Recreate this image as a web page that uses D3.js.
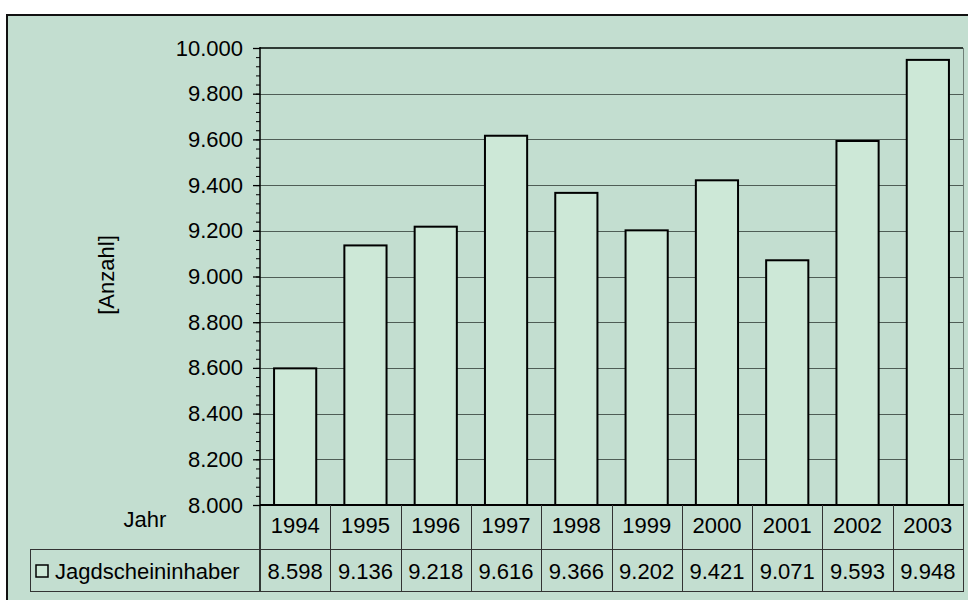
<!DOCTYPE html>
<meta charset="utf-8">
<script src="https://d3js.org/d3.v7.min.js"></script>
<style>
  body { margin: 0; background: #fff; }
  text { font-family: "Liberation Sans", Arial, sans-serif; fill: #000; }
</style>
<div id="chart"></div>
<script>
// data
var years = ["1994", "1995", "1996", "1997", "1998", "1999", "2000", "2001", "2002", "2003"];
var values = [8598, 9136, 9218, 9616, 9366, 9202, 9421, 9071, 9593, 9948];
var yTicks = [8000, 8200, 8400, 8600, 8800, 9000, 9200, 9400, 9600, 9800, 10000];
var seriesName = "Jagdscheininhaber";
var rowLabel = "Jahr";
var yLabel = "[Anzahl]";

var W = 968, H = 600;
var plot = {left: 260, right: 963, top: 48, bottom: 505};
var rowYear = {top: 505, bottom: 549};
var rowVal = {top: 549, bottom: 591};
var fs = "22px";

// german number format: 10.000
var de = d3.formatLocale({decimal: ",", thousands: ".", grouping: [3], currency: ["", " €"]});
var fmt = de.format(",d");

var svg = d3.select("#chart").append("svg")
  .attr("width", W)
  .attr("height", H);

// outer chart frame
svg.append("rect")
  .attr("x", 7).attr("y", 15)
  .attr("width", W + 20).attr("height", H + 20)
  .attr("fill", "#c3ded0")
  .attr("stroke", "#111")
  .attr("stroke-width", 2);

// scales
var xCol = d3.scaleBand().domain(years).range([plot.left, plot.right]);
var x = d3.scaleBand().domain(years).range([plot.left, plot.right])
  .paddingInner(0.4).paddingOuter(0.2);
var y = d3.scaleLinear().domain([8000, 10000]).range([plot.bottom, plot.top]);

// gridlines
svg.append("g")
  .selectAll("line")
  .data(yTicks.filter(function(t) { return t > 8000 && t < 10000; }))
  .enter().append("line")
    .attr("x1", plot.left).attr("x2", plot.right)
    .attr("y1", function(d) { return Math.round(y(d)) + 0.5; })
    .attr("y2", function(d) { return Math.round(y(d)) + 0.5; })
    .attr("stroke", "#4f5d56")
    .attr("stroke-width", 1);

// plot border (top + right)
svg.append("line")
  .attr("x1", plot.left).attr("x2", plot.right)
  .attr("y1", plot.top).attr("y2", plot.top)
  .attr("stroke", "#2e3a34").attr("stroke-width", 2);
svg.append("line")
  .attr("x1", plot.right + 0.5).attr("x2", plot.right + 0.5)
  .attr("y1", plot.top).attr("y2", rowVal.bottom)
  .attr("stroke", "#6f7f77").attr("stroke-width", 1);

// bars
svg.append("g")
  .selectAll("rect")
  .data(values)
  .enter().append("rect")
    .attr("x", function(d, i) { return x(years[i]); })
    .attr("y", function(d) { return y(d); })
    .attr("width", x.bandwidth())
    .attr("height", function(d) { return y(8000) - y(d); })
    .attr("fill", "#cde8d7")
    .attr("stroke", "#000")
    .attr("stroke-width", 2);

// y axis with minor ticks
var minor = d3.range(8000, 10001, 40);
svg.append("g")
  .attr("transform", "translate(" + plot.left + ",0)")
  .call(d3.axisLeft(y).tickValues(minor).tickSize(4).tickFormat(""))
  .call(function(g) { g.select(".domain").remove(); })
  .selectAll("line").attr("stroke", "#000");

var yAxis = svg.append("g")
  .attr("transform", "translate(" + plot.left + ",0)")
  .call(d3.axisLeft(y).tickValues(yTicks).tickSize(7).tickPadding(10).tickFormat(fmt));
yAxis.select(".domain").remove();
yAxis.selectAll("line").attr("stroke", "#000").attr("stroke-width", 1.3);
yAxis.selectAll("text")
  .style("font-family", "'Liberation Sans', Arial, sans-serif")
  .style("font-size", fs)
  .attr("fill", "#000");

svg.append("line")
  .attr("x1", plot.left).attr("x2", plot.left)
  .attr("y1", plot.top - 1).attr("y2", rowVal.bottom)
  .attr("stroke", "#000").attr("stroke-width", 1.5);

// x axis line
svg.append("line")
  .attr("x1", plot.left).attr("x2", plot.right + 1)
  .attr("y1", plot.bottom).attr("y2", plot.bottom)
  .attr("stroke", "#000").attr("stroke-width", 2);

// y label
svg.append("text")
  .attr("transform", "translate(114,275) rotate(-90)")
  .attr("text-anchor", "middle")
  .style("font-size", fs)
  .text(yLabel);

// data table
var table = svg.append("g");
var lineCol = "#333";

table.selectAll(".vline")
  .data(years)
  .enter().append("line")
    .attr("class", "vline")
    .attr("x1", function(d) { return Math.round(xCol(d) + xCol.bandwidth()) + 0.5; })
    .attr("x2", function(d) { return Math.round(xCol(d) + xCol.bandwidth()) + 0.5; })
    .attr("y1", rowYear.top).attr("y2", rowVal.bottom)
    .attr("stroke", lineCol).attr("stroke-width", 1);

table.append("line")
  .attr("x1", 30).attr("x2", plot.right + 1)
  .attr("y1", rowVal.top + 0.5).attr("y2", rowVal.top + 0.5)
  .attr("stroke", lineCol);
table.append("line")
  .attr("x1", 30).attr("x2", plot.right + 1)
  .attr("y1", rowVal.bottom + 0.5).attr("y2", rowVal.bottom + 0.5)
  .attr("stroke", lineCol);
table.append("line")
  .attr("x1", 30.5).attr("x2", 30.5)
  .attr("y1", rowVal.top).attr("y2", rowVal.bottom)
  .attr("stroke", lineCol);

table.selectAll(".year")
  .data(years)
  .enter().append("text")
    .attr("class", "year")
    .attr("x", function(d) { return xCol(d) + xCol.bandwidth() / 2; })
    .attr("y", 533)
    .attr("text-anchor", "middle")
    .style("font-size", fs)
    .text(function(d) { return d; });

table.selectAll(".val")
  .data(values)
  .enter().append("text")
    .attr("class", "val")
    .attr("x", function(d, i) { return xCol(years[i]) + xCol.bandwidth() / 2; })
    .attr("y", 579)
    .attr("text-anchor", "middle")
    .style("font-size", fs)
    .text(function(d) { return fmt(d); });

table.append("text")
  .attr("x", 145).attr("y", 527)
  .attr("text-anchor", "middle")
  .style("font-size", fs)
  .text(rowLabel);

// legend key + series name
table.append("rect")
  .attr("x", 36).attr("y", 565)
  .attr("width", 12).attr("height", 12)
  .attr("fill", "#cde8d7")
  .attr("stroke", "#000").attr("stroke-width", 1.5);
table.append("text")
  .attr("x", 55).attr("y", 579)
  .style("font-size", fs)
  .text(seriesName);
</script>
